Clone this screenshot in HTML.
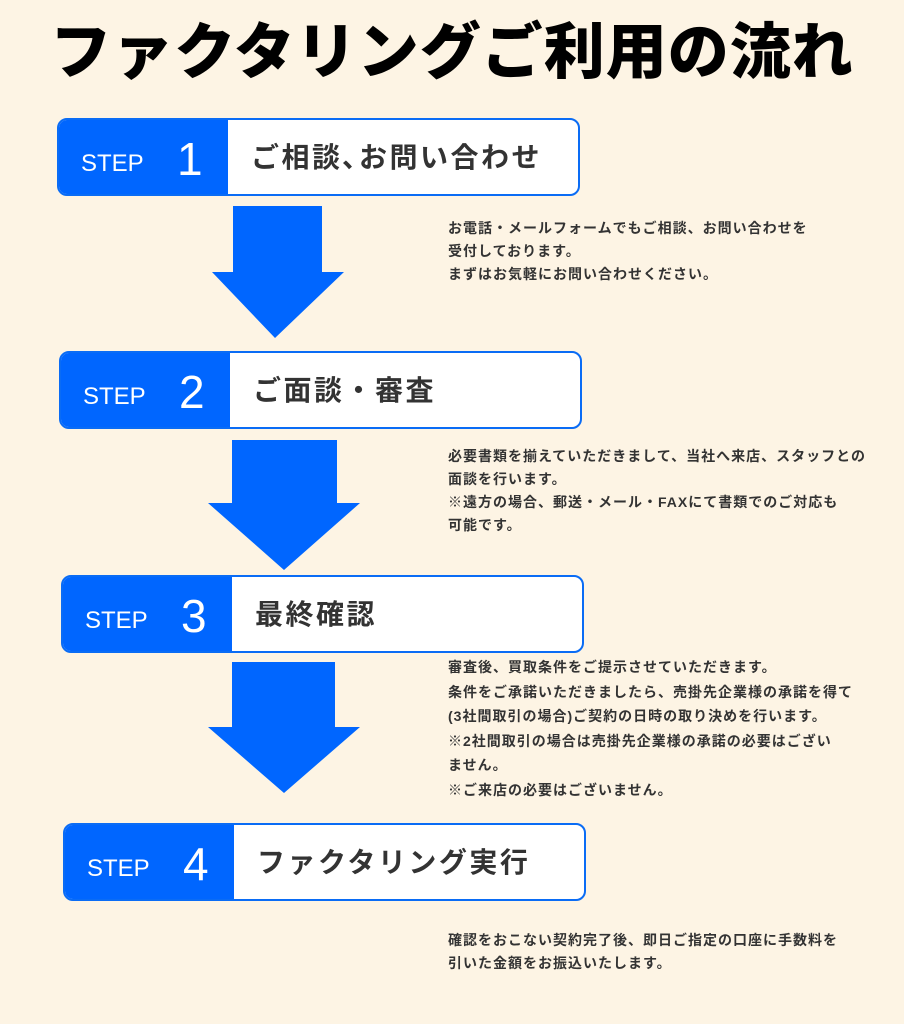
<!DOCTYPE html>
<html><head><meta charset="utf-8"><style>
body{margin:0;width:904px;height:1024px;background:#fdf4e4;position:relative;overflow:hidden;font-family:"Liberation Sans","Noto Sans CJK JP",sans-serif;}
.t{position:absolute;left:0;width:904px;top:12px;text-align:center;font-size:61px;font-weight:900;color:#000;letter-spacing:1px;line-height:80px}
.box{position:absolute;width:519px;height:74px;border:2px solid #0a6cf5;border-radius:10px;background:#fff;overflow:hidden}
.bl{position:absolute;left:0;top:0;width:169px;height:100%;background:#0066ff;color:#fff}
.bl span{position:absolute;left:22px;top:30px;font-size:24px}
.bl b{position:absolute;left:118px;top:12px;font-size:46px;font-weight:400}
.h{position:absolute;left:192px;top:16px;font-size:28px;font-weight:700;color:#333;letter-spacing:2.5px}
.p{position:absolute;left:448px;font-size:14px;font-weight:700;color:#333;line-height:23px;letter-spacing:1px}
svg{position:absolute;left:0;top:0}
</style></head><body>
<div class="t">ファクタリングご利用の流れ</div>
<svg width="904" height="1024">
<polygon fill="#0066ff" points="233,206 322,206 322,272 344,272 275,338 212,272 233,272"/>
<polygon fill="#0066ff" points="232,440 337,440 337,503 360,503 284,570 208,503 232,503"/>
<polygon fill="#0066ff" points="232,662 335,662 335,727 360,727 284,793 208,727 232,727"/>
</svg>
<div class="box" style="left:57px;top:118px"><div class="bl"><span>STEP</span><b>1</b></div><div class="h">ご相談､お問い合わせ</div></div>
<div class="box" style="left:59px;top:351px"><div class="bl"><span>STEP</span><b>2</b></div><div class="h">ご面談・審査</div></div>
<div class="box" style="left:61px;top:575px"><div class="bl"><span>STEP</span><b>3</b></div><div class="h">最終確認</div></div>
<div class="box" style="left:63px;top:823px"><div class="bl"><span>STEP</span><b>4</b></div><div class="h">ファクタリング実行</div></div>
<div class="p" style="top:217px">お電話・メールフォームでもご相談、お問い合わせを<br>受付しております。<br>まずはお気軽にお問い合わせください。</div>
<div class="p" style="top:445px">必要書類を揃えていただきまして、当社へ来店、スタッフとの<br>面談を行います。<br>※遠方の場合、郵送・メール・FAXにて書類でのご対応も<br>可能です。</div>
<div class="p" style="top:655px;line-height:24.5px">審査後、買取条件をご提示させていただきます。<br>条件をご承諾いただきましたら、売掛先企業様の承諾を得て<br>(3社間取引の場合)ご契約の日時の取り決めを行います。<br>※2社間取引の場合は売掛先企業様の承諾の必要はござい<br>ません。<br>※ご来店の必要はございません。</div>
<div class="p" style="top:929px">確認をおこない契約完了後、即日ご指定の口座に手数料を<br>引いた金額をお振込いたします。</div>
</body></html>
